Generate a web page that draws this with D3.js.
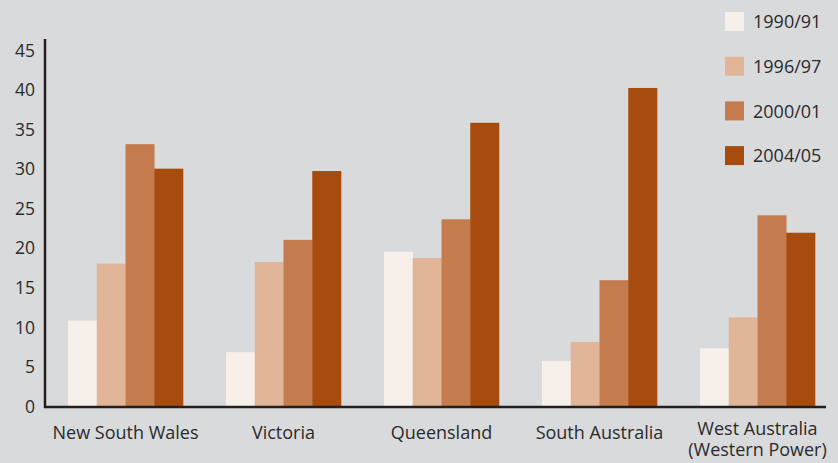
<!DOCTYPE html>
<html lang="en">
<head>
    <meta charset="utf-8">
    <title>Chart</title>
    <script src="https://d3js.org/d3.v7.min.js" charset="utf-8"></script>
    <style type="text/css">
        body { margin: 0; background: #d9dadc; }
        svg { display: block; }
        text { font-family: "Open Sans", sans-serif; fill: #2b2a2b; }
    </style>
</head>
<body>
    <script type="text/javascript">

        var states = ["New South Wales", "Victoria", "Queensland", "South Australia", "West Australia\n(Western Power)"];
        var years = ["1990/91", "1996/97", "2000/01", "2004/05"];
        var v1990 = [10.8, 6.8, 19.5, 5.7, 7.3];
        var v1996 = [18.0, 18.2, 18.7, 8.1, 11.2];
        var v2000 = [33.1, 21.0, 23.6, 15.9, 24.1];
        var v2004 = [30.0, 29.7, 35.8, 40.2, 21.9];
        var yTicks = [0, 5, 10, 15, 20, 25, 30, 35, 40, 45];
        var colors = ["#f7f0ea", "#e1b598", "#c47c4f", "#a84b0e"];

        var series = [v1990, v1996, v2000, v2004];
        var w = 838, h = 463;

        var svg = d3.select("body").append("svg")
            .attr("width", w)
            .attr("height", h);

        var x = d3.scaleBand()
            .domain(states)
            .range([46.5, 836.5])
            .paddingInner(0.272)
            .paddingOuter(0.136);

        var xs = d3.scaleBand()
            .domain(years)
            .range([0, x.bandwidth()]);

        var y = d3.scaleLinear()
            .domain([0, 45])
            .range([406, 50]);

        // bars
        states.forEach(function(s, i) {
            svg.selectAll(null)
                .data(years)
                .enter()
                .append("rect")
                .attr("x", function(d) { return x(s) + xs(d); })
                .attr("width", xs.bandwidth() + 0.3)
                .attr("y", function(d, j) { return y(series[j][i]); })
                .attr("height", function(d, j) { return y(0) - y(series[j][i]); })
                .attr("fill", function(d, j) { return colors[j]; });
        });

        // y axis
        var yAxis = svg.append("g")
            .attr("transform", "translate(35,0)")
            .call(d3.axisLeft(y).tickValues(yTicks).tickSize(0).tickPadding(0));
        yAxis.select(".domain").remove();
        yAxis.selectAll("text")
            .attr("font-size", "17.5px")
            .attr("dy", "0.35em")
            .style("font-family", "'Open Sans', sans-serif")
            .style("fill", "#2b2a2b");

        svg.append("line")
            .attr("x1", 45).attr("x2", 45)
            .attr("y1", 39).attr("y2", 408)
            .attr("stroke", "#231f20").attr("stroke-width", 2.5);
        svg.append("line")
            .attr("x1", 44).attr("x2", 826)
            .attr("y1", y(0) + 1).attr("y2", y(0) + 1)
            .attr("stroke", "#231f20").attr("stroke-width", 2.5);

        // x labels (two-line label sits a bit higher)
        var xl = svg.selectAll(".xl")
            .data(states)
            .enter()
            .append("text")
            .attr("class", "xl")
            .attr("text-anchor", "middle")
            .attr("font-size", "18px")
            .attr("x", function(d) { return x(d) + x.bandwidth() / 2; })
            .attr("y", function(d) { return d.indexOf("\n") > -1 ? 435 : 439; });
        xl.selectAll("tspan")
            .data(function(d) { return d.split("\n"); })
            .enter()
            .append("tspan")
            .attr("x", function() { return this.parentNode.getAttribute("x"); })
            .attr("dy", function(d, i) { return i ? "1.17em" : 0; })
            .text(function(d) { return d; });

        // legend
        var lg = svg.selectAll(".lg")
            .data(years)
            .enter()
            .append("g")
            .attr("class", "lg")
            .attr("transform", function(d, i) { return "translate(725," + (12 + i * 44.7) + ")"; });
        lg.append("rect")
            .attr("width", 19).attr("height", 19)
            .attr("fill", function(d, i) { return colors[i]; });
        lg.append("text")
            .attr("x", 28).attr("y", 10).attr("dy", "0.35em")
            .attr("font-size", "18px")
            .text(function(d) { return d; });

    </script>
</body>
</html>
